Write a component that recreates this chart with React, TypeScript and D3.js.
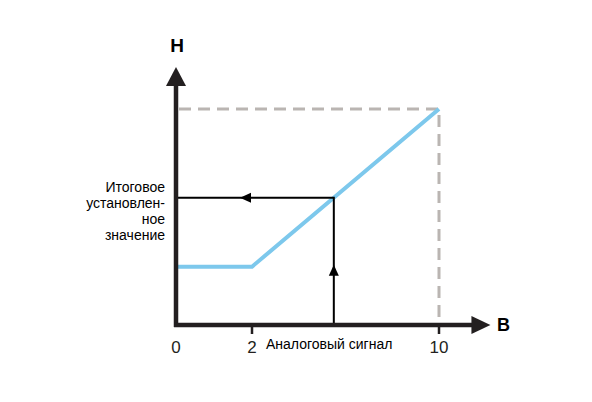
import React from "react";
import * as d3 from "d3";

// input signal (V) -> output (% of full scale)
const signalIn = [0, 2, 10];
const outputPct = [27, 27, 100];
const setpointIn = 5.5;
const xTicks = [0, 2, 10];
const xTickMarks = [2, 10];
const setpointLabel = ["Итоговое", "установлен-", "ное", "значение"];
const xLabel = "Аналоговый сигнал";
const yName = "Н";
const xName = "В";

const W = 592;
const H = 402;
const FONT = "'Liberation Sans', Arial, sans-serif";

export default function App() {
  // schematic axis: the 0..2 segment is drawn wider than the rest
  const x = d3.scaleLinear().domain([0, 2, 10]).range([176, 252, 439]);
  const y = d3.scaleLinear().domain([0, 100]).range([325, 109]);

  const xMax = 12.2;
  const yMax = 119.5;

  const pts: [number, number][] = signalIn.map((v, i) => [v, outputPct[i]]);
  const line = d3
    .line<[number, number]>()
    .x((d) => x(d[0]))
    .y((d) => y(d[1]));

  const interp = d3.scaleLinear().domain(signalIn).range(outputPct);
  const setVal = interp(setpointIn);
  const sx = x(setpointIn);
  const sy = y(setVal);

  const x0 = x(0);
  const y0 = y(0);
  const xTip = x(xMax);
  const yTip = y(yMax);

  const fullX = x(10);
  const fullY = y(100);

  return (
    <svg
      width={W}
      height={H}
      style={{ position: "absolute", left: 0, top: 0, background: "#fff" }}
    >
      {/* dashed full-scale guides */}
      <path
        d={`M${x0 + 3},${fullY}H${fullX}V${y0 - 3}`}
        fill="none"
        stroke="#bab5b2"
        strokeWidth={3}
        strokeDasharray="12,7"
      />

      {/* characteristic */}
      <path
        d={line(pts) ?? ""}
        fill="none"
        stroke="#7dc8ec"
        strokeWidth={4}
        strokeLinejoin="miter"
      />

      {/* setpoint construction lines */}
      <path
        d={`M${sx},${y0}V${sy}H${x0}`}
        fill="none"
        stroke="#000"
        strokeWidth={2}
      />
      <path
        d={`M${sx},${y(27) - 2}l-5,11h10z`}
        fill="#000"
      />
      <path
        d={`M${x(2) - 12},${sy}l11,-5v10z`}
        fill="#000"
      />

      {/* axes */}
      <line x1={x0} x2={x0} y1={y0 + 2} y2={yTip + 18} stroke="#231f20" strokeWidth={4.5} />
      <path d={`M${x0},${yTip}l-10,19h20z`} fill="#231f20" />
      <line x1={x0 - 2} x2={xTip - 18} y1={y0} y2={y0} stroke="#231f20" strokeWidth={4.5} />
      <path d={`M${xTip},${y0}l-19,-9v18z`} fill="#231f20" />

      {xTickMarks.map((t) => (
        <line key={t} x1={x(t)} x2={x(t)} y1={y0} y2={y0 + 9} stroke="#231f20" strokeWidth={2.5} />
      ))}
      {xTicks.map((t) => (
        <text
          key={t}
          x={x(t)}
          y={y0 + 28}
          textAnchor="middle"
          fontFamily={FONT}
          fontSize={17}
          fill="#231f20"
        >
          {t}
        </text>
      ))}

      <text x={266} y={y0 + 24} fontFamily={FONT} fontSize={14} fill="#000">
        {xLabel}
      </text>

      <text x={x0 + 1} y={52} textAnchor="middle" fontFamily={FONT} fontSize={19} fontWeight="bold" fill="#000">
        {yName}
      </text>
      <text x={497} y={331} fontFamily={FONT} fontSize={18} fontWeight="bold" fill="#000">
        {xName}
      </text>

      <text fontFamily={FONT} fontSize={14} fill="#000" textAnchor="end">
        {setpointLabel.map((s, i) => (
          <tspan key={i} x={165} y={192 + i * 16}>
            {s}
          </tspan>
        ))}
      </text>
    </svg>
  );
}
